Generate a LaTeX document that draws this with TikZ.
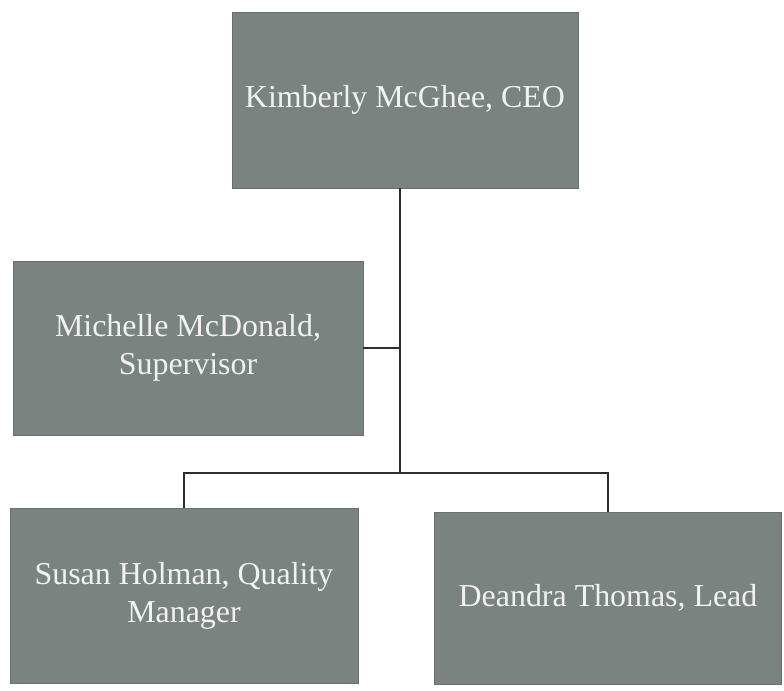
\documentclass[tikz,border=0pt]{standalone}
\usepackage{fontspec}
\setmainfont{Liberation Serif}
\usetikzlibrary{positioning,calc}
\definecolor{orgfill}{HTML}{7B8381}
\definecolor{orgtext}{HTML}{F2F2F0}
\definecolor{orgline}{HTML}{2E2E2E}

\begin{document}
\begin{tikzpicture}[x=.025cm,y=-.025cm,
  orgbox/.style={fill=orgfill,draw=orgfill!85!black,line width=.4pt,text=orgtext,align=center,inner sep=0pt,
    font=\fontsize{22.7}{26.6}\selectfont},
  link/.style={draw=orgline,line width=1.3pt}]
\useasboundingbox (0,0) rectangle (784,691);
% boxes
\node[orgbox,minimum width=8.65cm,minimum height=4.4cm] (ceo) at (405,100) {Kimberly McGhee, CEO};
\node[orgbox,minimum width=8.75cm,minimum height=4.35cm] (sup) at (188,348) {Michelle McDonald,\\Supervisor};
\node[orgbox,minimum width=8.7cm,minimum height=4.375cm] (qm) at (184,596) {Susan Holman, Quality\\Manager};
\node[orgbox,minimum width=8.675cm,minimum height=4.3cm] (lead) at (608,598) {Deandra Thomas, Lead};
% connectors
\coordinate (split) at ($(ceo.south)+(-5,285)$);
\coordinate (tee) at (sup.east -| split);
\draw[link] (ceo.south -| split) -- (split);
\draw[link] (sup.east) -- (tee);
\draw[link] (qm.north) |- (split) -| (lead.north);
\end{tikzpicture}
\end{document}
